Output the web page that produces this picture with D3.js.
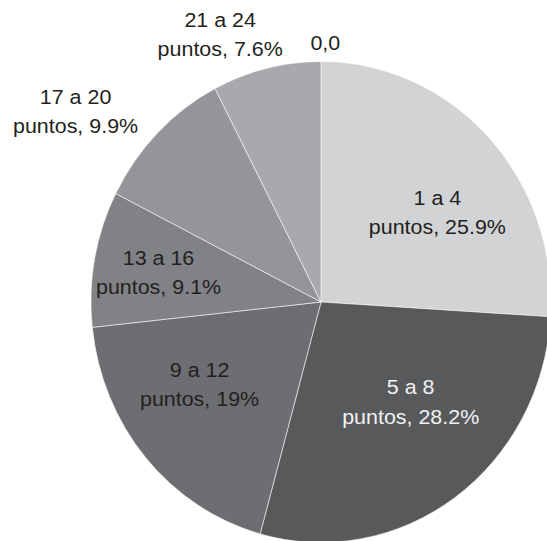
<!DOCTYPE html>
<html>
<head>
<meta charset="utf-8">
<script src="https://cdn.jsdelivr.net/npm/d3@7/dist/d3.min.js"></script>
<style>
  html, body { margin: 0; padding: 0; background: #ffffff; }
  svg { display: block; }
</style>
</head>
<body>
<svg id="chart" width="547" height="541"></svg>
<script>
// Distribución por rango de puntos
const categories = ["1 a 4", "5 a 8", "9 a 12", "13 a 16", "17 a 20", "21 a 24", ""];
const values = [25.9, 28.2, 19, 9.1, 9.9, 7.6, 0];
const valueLabels = ["25.9%", "28.2%", "19%", "9.1%", "9.9%", "7.6%", "0,0"];

const fills = ["#d1d3d4", "#58595b", "#6d6e71", "#808285", "#939598", "#a7a9ac", "#bcbec0"];
const textFills = ["#231f20", "#f1f2f2", "#231f20", "#231f20", "#231f20", "#231f20", "#231f20"];
// label placement: angular nudge (degrees) and radius factor along the slice
const labelPlacement = [
  { da: 6.9, rf: 0.628 },
  { da: -7.6, rf: 0.570 },
  { da: 7.3, rf: 0.630 },
  { da: -0.5, rf: 0.717 },
  { da: -8.1, rf: 1.329 },
  { da: -7.8, rf: 1.195 },
  { da: 1.0, rf: 1.078 }
];

const svg = d3.select("#chart");
const cx = 321, cy = 302;
const rx = 230, ry = 240.5;

const pie = d3.pie().sort(null).value(d => d.value).startAngle(0).endAngle(2 * Math.PI);
const data = categories.map((c, i) => ({ cat: c, value: values[i], label: valueLabels[i], i }));
const arcs = pie(data);

const arc = d3.arc().innerRadius(0).outerRadius(ry);

const pieG = svg.append("g")
  .attr("transform", `translate(${cx},${cy}) scale(${rx / ry},1)`);

pieG.selectAll("path.slice")
  .data(arcs.filter(d => d.value > 0))
  .join("path")
  .attr("class", "slice")
  .attr("d", arc)
  .attr("fill", d => fills[d.data.i])
  .attr("stroke", "#ffffff")
  .attr("stroke-width", 0.7)
  .attr("stroke-opacity", 0.8)
  .attr("vector-effect", "non-scaling-stroke");

// labels (slightly widened glyphs)
const lineGap = 29.3;
const halfCap = 6.9;
const widen = 1.1;
const labelG = svg.append("g")
  .attr("font-family", "'Liberation Sans', Arial, sans-serif")
  .attr("font-size", 19.5)
  .attr("text-anchor", "middle");

arcs.forEach(d => {
  const p = labelPlacement[d.data.i];
  const mid = (d.startAngle + d.endAngle) / 2 + p.da * Math.PI / 180;
  const x = cx + rx * p.rf * Math.sin(mid);
  const y = cy - ry * p.rf * Math.cos(mid);
  const t = labelG.append("text")
    .attr("fill", textFills[d.data.i])
    .attr("transform", `translate(${x},0) scale(${widen},1)`);
  if (d.data.cat) {
    t.append("tspan").attr("x", 0).attr("y", y + halfCap - lineGap / 2).text(d.data.cat);
    t.append("tspan").attr("x", 0).attr("y", y + halfCap + lineGap / 2).text("puntos, " + d.data.label);
  } else {
    t.append("tspan").attr("x", 0).attr("y", y + halfCap).text(d.data.label);
  }
});
</script>
</body>
</html>
